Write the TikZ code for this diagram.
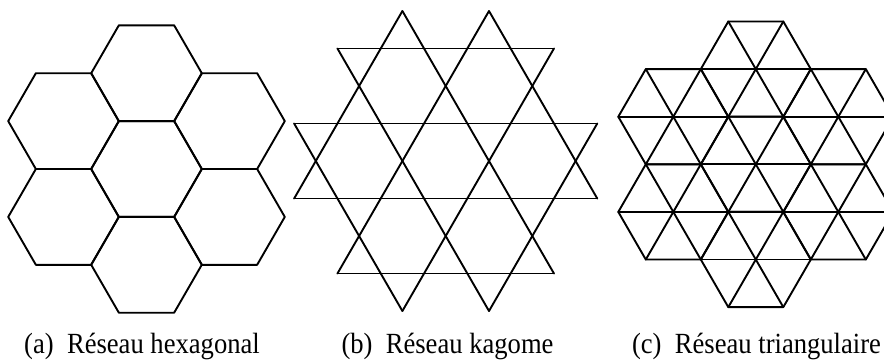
\documentclass[tikz,border=0pt]{standalone}
\usepackage{fontspec}
\setmainfont{Liberation Serif}
\begin{document}
\begin{tikzpicture}[x=0.5pt,y=-0.5pt,
  lat/.style={line width=0.95pt, line join=round, line cap=round},
  capt/.style={font=\fontsize{13.3}{16}\selectfont, anchor=base, inner sep=0pt, yscale=1.1, transform shape}]
\useasboundingbox (0,0) rectangle (884,361);
\clip (0,0) rectangle (884,361);
% (a) hexagonal lattice
\begin{scope}[shift={(146.5,169)}]
  \foreach \cx/\cy in {0/0, 0/-95.8, 0/95.8, 83/-47.9, 83/47.9, -83/-47.9, -83/47.9}
    \draw[lat] (\cx,\cy) ++(0:55.3) -- ++(120:55.3) -- ++(180:55.3) -- ++(240:55.3)
      -- ++(300:55.3) -- ++(0:55.3) -- cycle;
\end{scope}
% (b) kagome lattice
\begin{scope}[shift={(445.7,161)}]
  \foreach \r in {0,60,120}{
    \begin{scope}[rotate=\r]
      \draw[lat] (-108.25,-112.5) -- (108.25,-112.5);
      \draw[lat] (-151.55,-37.5) -- (151.55,-37.5);
      \draw[lat] (-151.55,37.5) -- (151.55,37.5);
      \draw[lat] (-108.25,112.5) -- (108.25,112.5);
    \end{scope}
  }
\end{scope}
% (c) triangular lattice
\begin{scope}[shift={(755.8,164.3)}]
  \foreach \cx/\cy in {0/0, 0/-95.2, 0/95.2, 82.5/-47.6, 82.5/47.6, -82.5/-47.6, -82.5/47.6}{
    \draw[lat] (\cx,\cy) ++(0:55) -- ++(120:55) -- ++(180:55) -- ++(240:55)
      -- ++(300:55) -- ++(0:55) -- cycle;
    \draw[lat] (\cx,\cy) +(0:55) -- +(180:55);
    \draw[lat] (\cx,\cy) +(60:55) -- +(240:55);
    \draw[lat] (\cx,\cy) +(120:55) -- +(300:55);
  }
\end{scope}
% captions
\node[capt] (capa) at (142,353) {(a)\hspace{0.5em}Réseau hexagonal};
\node[capt] (capb) at (447.5,353) {(b)\hspace{0.5em}Réseau kagome};
\node[capt] (capc) at (756.5,353) {(c)\hspace{0.5em}Réseau triangulaire};
\end{tikzpicture}
\end{document}
